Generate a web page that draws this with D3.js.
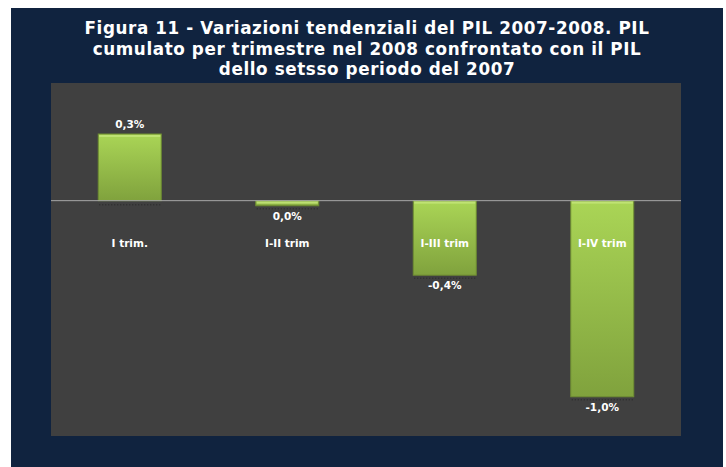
<!DOCTYPE html>
<html>
<head>
<meta charset="utf-8">
<script src="https://cdn.jsdelivr.net/npm/d3@7"></script>
<style>
  body { margin: 0; background: #ffffff; }
  svg { display: block; }
</style>
</head>
<body>
<div id="chart"></div>
<script>
var width = 726, height = 467;

// data
var categories = ["I trim.", "I-II trim", "I-III trim", "I-IV trim"];
var values = [0.34, -0.026, -0.38, -1.0];
var valueLabels = ["0,3%", "0,0%", "-0,4%", "-1,0%"];
var titleLines = [
    "Figura 11 - Variazioni tendenziali del PIL 2007-2008. PIL",
    "cumulato per trimestre nel 2008 confrontato con il PIL",
    "dello setsso periodo del 2007"
];

var frame = {left: 11, top: 8, right: 723, bottom: 467};
var plot = {left: 51, top: 83, right: 681, bottom: 436};

var svg = d3.select("#chart").append("svg")
    .attr("width", width)
    .attr("height", height);

var defs = svg.append("defs");
var grad = defs.append("linearGradient")
    .attr("id", "barGrad")
    .attr("x1", 0).attr("y1", 0).attr("x2", 0).attr("y2", 1);
grad.append("stop").attr("offset", "0%").attr("stop-color", "#aad556");
grad.append("stop").attr("offset", "100%").attr("stop-color", "#80a23d");

// outer navy frame
svg.append("rect")
    .attr("x", frame.left)
    .attr("y", frame.top)
    .attr("width", frame.right - frame.left)
    .attr("height", frame.bottom - frame.top)
    .attr("fill", "#10233f");

// title
svg.append("g")
    .selectAll("text")
    .data(titleLines)
    .enter().append("text")
    .attr("x", 367)
    .attr("y", function(d, i) { return 34 + i * 20.5; })
    .attr("text-anchor", "middle")
    .attr("fill", "#ffffff")
    .style("font-family", "'DejaVu Sans', Verdana, sans-serif")
    .style("font-weight", "bold")
    .style("font-size", "16.8px")
    .style("letter-spacing", "0.6px")
    .text(function(d) { return d; });

// plot area
svg.append("rect")
    .attr("x", plot.left)
    .attr("y", plot.top)
    .attr("width", plot.right - plot.left)
    .attr("height", plot.bottom - plot.top)
    .attr("fill", "#404040");

var xScale = d3.scaleBand()
    .domain(categories)
    .range([plot.left, plot.right])
    .paddingInner(0.6)
    .paddingOuter(0.3);

var yScale = d3.scaleLinear()
    .domain([-1.2, 0.6])
    .range([plot.bottom, plot.top]);

var g = svg.append("g");

// dotted shadow under each bar
g.selectAll(".shadow")
    .data(values)
    .enter().append("line")
    .attr("class", "shadow")
    .attr("x1", function(d, i) { return xScale(categories[i]) + 1; })
    .attr("x2", function(d, i) { return xScale(categories[i]) + xScale.bandwidth() + 1; })
    .attr("y1", function(d) { return d > 0 ? yScale(0) + 4 : yScale(d) + 3; })
    .attr("y2", function(d) { return d > 0 ? yScale(0) + 4 : yScale(d) + 3; })
    .attr("stroke", "#2e2e2e")
    .attr("stroke-width", 1.5)
    .attr("stroke-dasharray", "1,2");

// bars
g.selectAll(".bar")
    .data(values)
    .enter().append("rect")
    .attr("class", "bar")
    .attr("x", function(d, i) { return xScale(categories[i]); })
    .attr("y", function(d) { return yScale(Math.max(0, d)); })
    .attr("width", xScale.bandwidth())
    .attr("height", function(d) { return Math.abs(yScale(d) - yScale(0)); })
    .attr("fill", "url(#barGrad)")
    .attr("stroke", "#6e8c32")
    .attr("stroke-width", 1);

// light bevel on top of the bars
g.selectAll(".bevel")
    .data(values)
    .enter().append("rect")
    .attr("class", "bevel")
    .attr("x", function(d, i) { return xScale(categories[i]) + 1; })
    .attr("y", function(d) { return yScale(Math.max(0, d)) + 1; })
    .attr("width", xScale.bandwidth() - 2)
    .attr("height", 2)
    .attr("fill", "#c4e67a")
    .attr("opacity", 0.8);

// zero line
g.append("line")
    .attr("x1", plot.left)
    .attr("x2", plot.right)
    .attr("y1", yScale(0))
    .attr("y2", yScale(0))
    .attr("stroke", "#a6a6a6")
    .attr("stroke-width", 1);

// category labels
g.selectAll(".cat")
    .data(categories)
    .enter().append("text")
    .attr("class", "cat")
    .attr("x", function(d) { return xScale(d) + xScale.bandwidth() / 2; })
    .attr("y", yScale(0) + 46)
    .attr("text-anchor", "middle")
    .attr("fill", "#ffffff")
    .style("font-family", "'DejaVu Sans', Verdana, sans-serif")
    .style("font-weight", "bold")
    .style("font-size", "10.5px")
    .text(function(d) { return d; });

// value labels
g.selectAll(".val")
    .data(values)
    .enter().append("text")
    .attr("class", "val")
    .attr("x", function(d, i) { return xScale(categories[i]) + xScale.bandwidth() / 2; })
    .attr("y", function(d) { return d > 0 ? yScale(d) - 6 : yScale(d) + 14; })
    .attr("text-anchor", "middle")
    .attr("fill", "#ffffff")
    .style("font-family", "'DejaVu Sans', Verdana, sans-serif")
    .style("font-weight", "bold")
    .style("font-size", "10.5px")
    .text(function(d, i) { return valueLabels[i]; });
</script>
</body>
</html>
